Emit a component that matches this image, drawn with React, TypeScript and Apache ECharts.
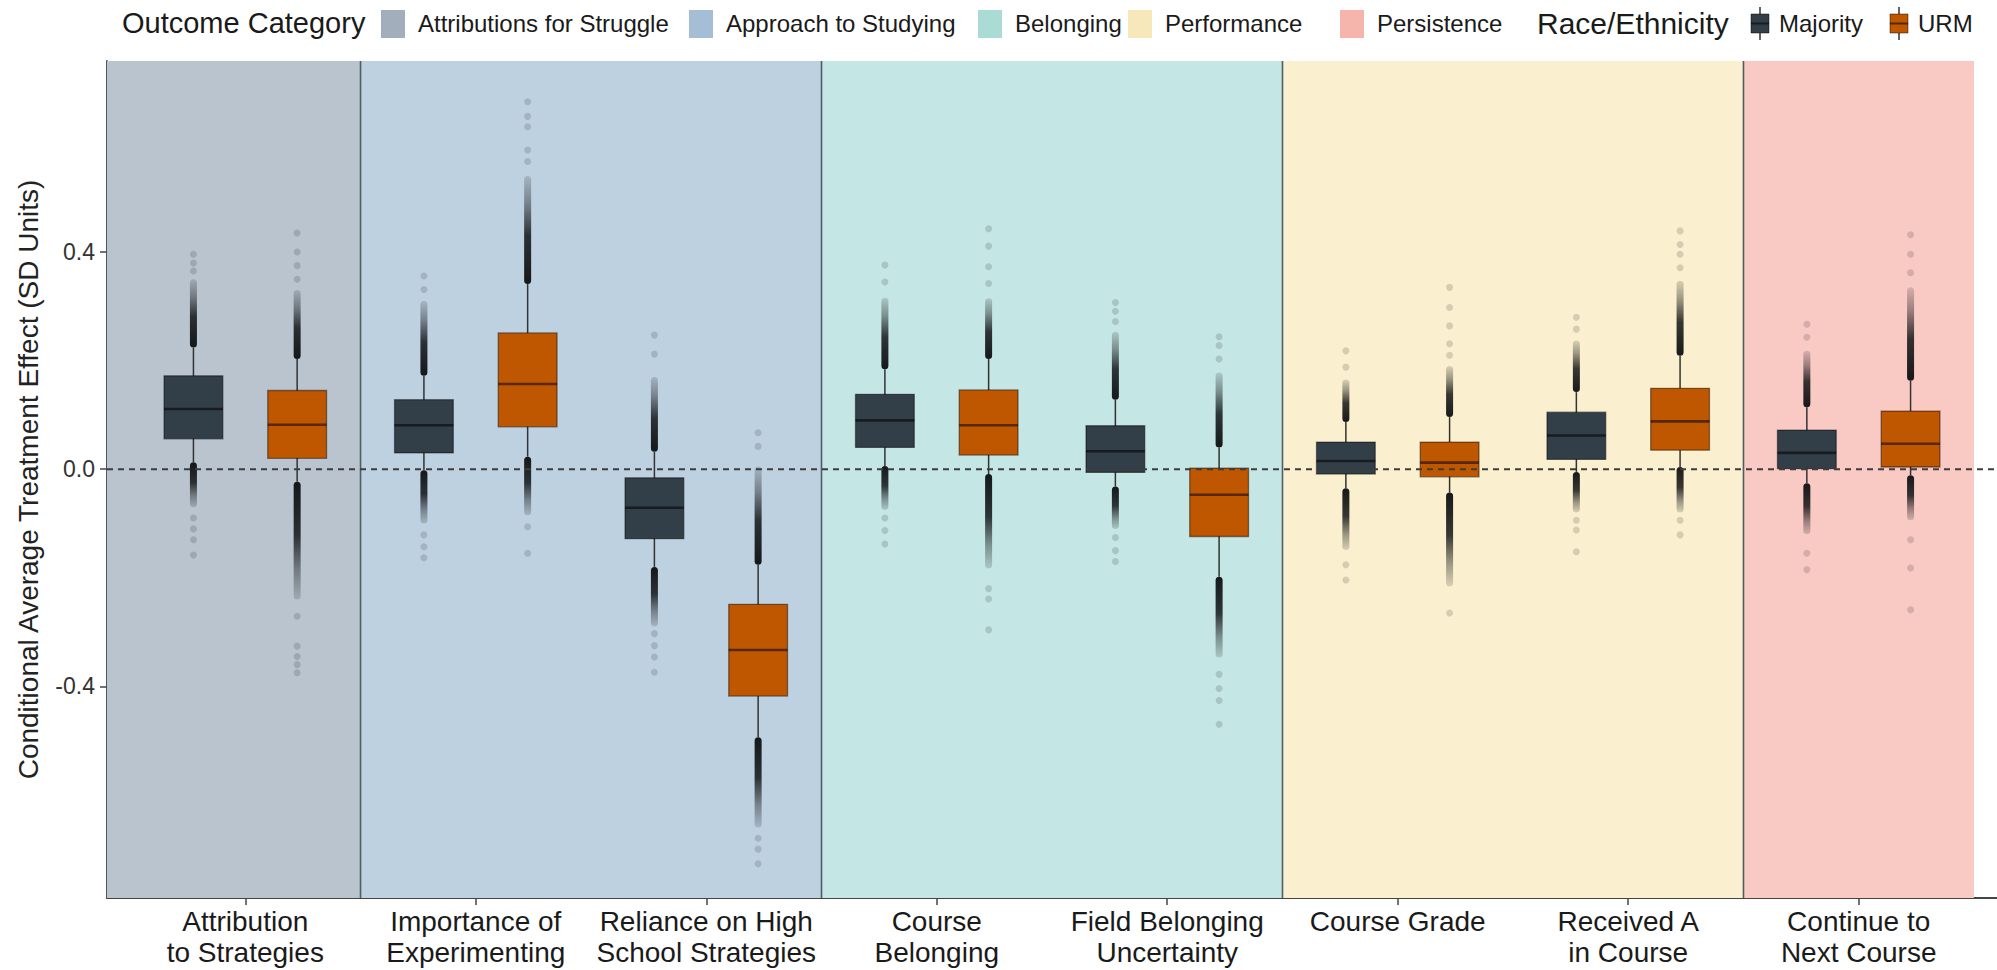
import React, { useEffect, useRef } from 'react';
import * as echarts from 'echarts';

// Outcomes on the x axis (ordered), grouped into outcome categories
const outcomeLabels = [
  'Attribution\nto Strategies',
  'Importance of\nExperimenting',
  'Reliance on High\nSchool Strategies',
  'Course\nBelonging',
  'Field Belonging\nUncertainty',
  'Course Grade',
  'Received A\nin Course',
  'Continue to\nNext Course',
];

const outcomeCategories = ['Attributions for Struggle', 'Approach to Studying', 'Belonging', 'Performance', 'Persistence'];
const categoryFirstOutcome = [1, 2, 4, 6, 8];
const categoryLastOutcome = [1, 3, 5, 7, 8];

const raceGroups = ['Majority', 'URM'];

// Box statistics per outcome: [lower whisker, Q1, median, Q3, upper whisker]
const majorityBoxes = [
  [0.013, 0.056, 0.111, 0.172, 0.224],
  [-0.002, 0.030, 0.081, 0.128, 0.172],
  [-0.180, -0.128, -0.071, -0.016, 0.032],
  [0.006, 0.040, 0.090, 0.138, 0.184],
  [-0.032, -0.006, 0.033, 0.080, 0.128],
  [-0.035, -0.009, 0.015, 0.050, 0.087],
  [-0.005, 0.018, 0.062, 0.105, 0.142],
  [-0.026, 0.001, 0.030, 0.072, 0.114],
];
const urmBoxes = [
  [-0.023, 0.020, 0.082, 0.145, 0.203],
  [0.023, 0.078, 0.157, 0.251, 0.341],
  [-0.494, -0.418, -0.333, -0.249, -0.176],
  [-0.009, 0.026, 0.081, 0.146, 0.203],
  [-0.198, -0.124, -0.047, 0.002, 0.040],
  [-0.043, -0.014, 0.012, 0.050, 0.096],
  [0.004, 0.035, 0.088, 0.149, 0.209],
  [-0.011, 0.004, 0.047, 0.107, 0.163],
];

// Far end of the dense run of outliers beyond each whisker: [above, below]
const majorityCloudEnds = [
  [0.35, -0.07],
  [0.31, -0.10],
  [0.17, -0.29],
  [0.316, -0.075],
  [0.253, -0.11],
  [0.165, -0.149],
  [0.237, -0.08],
  [0.218, -0.12],
];
const urmCloudEnds = [
  [0.33, -0.24],
  [0.54, -0.085],
  [0.005, -0.66],
  [0.315, -0.183],
  [0.178, -0.347],
  [0.19, -0.216],
  [0.347, -0.08],
  [0.335, -0.094],
];

// Isolated outlying estimates past the dense runs
const majorityOutliers = [
  [0.365, 0.38, 0.396, -0.09, -0.11, -0.13, -0.158],
  [0.331, 0.356, -0.121, -0.143, -0.163],
  [0.212, 0.247, -0.303, -0.325, -0.346, -0.374],
  [0.345, 0.376, -0.09, -0.113, -0.138],
  [0.272, 0.291, 0.307, -0.126, -0.15, -0.17],
  [0.188, 0.218, -0.176, -0.204],
  [0.258, 0.28, -0.094, -0.112, -0.152],
  [0.243, 0.267, -0.155, -0.185],
];
const urmOutliers = [
  [0.35, 0.375, 0.4, 0.435, -0.271, -0.326, -0.345, -0.36, -0.375],
  [0.567, 0.588, 0.631, 0.65, 0.677, -0.106, -0.155],
  [0.042, 0.067, -0.68, -0.7, -0.727],
  [0.342, 0.373, 0.411, 0.443, -0.22, -0.239, -0.296],
  [0.203, 0.228, 0.244, -0.378, -0.404, -0.426, -0.47],
  [0.21, 0.231, 0.264, 0.298, 0.335, -0.265],
  [0.371, 0.396, 0.414, 0.439, -0.094, -0.121],
  [0.362, 0.396, 0.432, -0.13, -0.182, -0.259],
];

const yTicks = [-0.4, 0, 0.4];
const referenceValue = 0;

// Axis ranges and layout
const X_MIN = 0.4;
const X_MAX = 8.6;
const Y_MIN = -0.79;
const Y_MAX = 0.752;
const DODGE = 0.225;
const BOX_WIDTH = 0.255;
const CLOUD_WIDTH = 7;

const FONT = '"Liberation Sans", Arial, sans-serif';
const categoryFills = ['#B9C4CE', '#BED1E1', '#C4E6E4', '#FAF0CF', '#F9C9C4'];
const categoryKeyFills = ['#A2AEBC', '#A6BED5', '#AADBD5', '#F6E8BA', '#F5B4AC'];
const raceFills = ['#333F48', '#BF5700'];

const boxSets = [majorityBoxes, urmBoxes];
const cloudSets = [majorityCloudEnds, urmCloudEnds];
const outlierSets = [majorityOutliers, urmOutliers];
const groupOffsets = [-DODGE, DODGE];

function buildOption() {
  const bgData = outcomeCategories.map((_, i) => [
    categoryFirstOutcome[i] === 1 ? X_MIN : categoryFirstOutcome[i] - 0.5,
    categoryLastOutcome[i] + 0.5,
    i,
  ]);
  const dividerData = categoryLastOutcome.slice(0, -1).map((v) => [v + 0.5, 0]);

  const boxData: number[][] = [];
  const cloudData: number[][] = [];
  const outlierData: number[][] = [];
  boxSets.forEach((set, g) => {
    set.forEach((s, i) => {
      const x = i + 1 + groupOffsets[g];
      boxData.push([x, s[0], s[1], s[2], s[3], s[4], g]);
      const ends = cloudSets[g][i];
      cloudData.push([x, s[4], ends[0], 1]);
      cloudData.push([x, s[0], ends[1], -1]);
      outlierSets[g][i].forEach((v) => outlierData.push([x, v]));
    });
  });

  const cloudColor = (a: number) => `rgba(12,14,16,${a})`;

  const graphic: any[] = [];
  const legendText = (text: string, x: number, size: number) => ({
    type: 'text',
    x,
    y: 23,
    silent: true,
    style: { text, fontSize: size, fontFamily: FONT, fill: '#1a1a1a', verticalAlign: 'middle', textVerticalAlign: 'middle' },
  });
  graphic.push(legendText('Outcome Category', 122, 29));
  const keyX = [381, 689, 978, 1128, 1340];
  outcomeCategories.forEach((name, i) => {
    graphic.push({
      type: 'rect',
      silent: true,
      shape: { x: keyX[i], y: 10, width: 24, height: 28 },
      style: { fill: categoryKeyFills[i] },
    });
    graphic.push(legendText(name, keyX[i] + 37, 24));
  });
  graphic.push(legendText('Race/Ethnicity', 1537, 30));
  const raceKeyX = [1760, 1899];
  raceGroups.forEach((name, g) => {
    const cx = raceKeyX[g];
    graphic.push({
      type: 'line', silent: true,
      shape: { x1: cx, y1: 7, x2: cx, y2: 40 },
      style: { stroke: '#333', lineWidth: 1.5 },
    });
    graphic.push({
      type: 'rect', silent: true,
      shape: { x: cx - 9, y: 14, width: 18, height: 19 },
      style: { fill: raceFills[g], stroke: 'rgba(0,0,0,0.45)', lineWidth: 1 },
    });
    graphic.push({
      type: 'line', silent: true,
      shape: { x1: cx - 9, y1: 23.5, x2: cx + 9, y2: 23.5 },
      style: { stroke: 'rgba(0,0,0,0.55)', lineWidth: 2 },
    });
    graphic.push(legendText(name, cx + 19, 24));
  });

  return {
    animation: false,
    backgroundColor: '#ffffff',
    textStyle: { fontFamily: FONT },
    graphic,
    grid: { left: 107, right: 0, top: 61, bottom: 72, containLabel: false },
    xAxis: {
      type: 'value',
      min: X_MIN,
      max: X_MAX,
      splitLine: { show: false },
      axisLine: { show: true, onZero: false, lineStyle: { color: '#444', width: 1.8 } },
      axisTick: { show: true, customValues: outcomeLabels.map((_, i) => i + 1), length: 7, lineStyle: { color: '#444', width: 1.5 } },
      axisLabel: {
        customValues: outcomeLabels.map((_, i) => i + 1),
        formatter: (v: number) => outcomeLabels[Math.round(v) - 1] ?? '',
        fontSize: 28,
        lineHeight: 31,
        color: '#1a1a1a',
        margin: 8,
        fontFamily: FONT,
      },
    },
    yAxis: {
      type: 'value',
      min: Y_MIN,
      max: Y_MAX,
      splitLine: { show: false },
      axisLine: { show: true, onZero: false, lineStyle: { color: '#444', width: 1.8 } },
      axisTick: { show: true, customValues: yTicks, length: 7, lineStyle: { color: '#444', width: 1.5 } },
      axisLabel: {
        customValues: yTicks,
        formatter: (v: number) => v.toFixed(1),
        fontSize: 23,
        color: '#333',
        margin: 12,
        fontFamily: FONT,
      },
      name: 'Conditional Average Treatment Effect (SD Units)',
      nameLocation: 'middle',
      nameGap: 65,
      nameTextStyle: { fontSize: 28, color: '#222', fontFamily: FONT },
    },
    series: [
      {
        // outcome-category bands
        type: 'custom',
        z: 1,
        silent: true,
        data: bgData,
        renderItem: (params: any, api: any) => {
          const cs = params.coordSys;
          const a = api.coord([api.value(0), 0]);
          const b = api.coord([api.value(1), 0]);
          return {
            type: 'rect',
            shape: { x: a[0], y: cs.y, width: b[0] - a[0], height: cs.height },
            style: { fill: categoryFills[api.value(2)] },
          };
        },
      },
      {
        // category dividers
        type: 'custom',
        z: 2,
        silent: true,
        data: dividerData,
        renderItem: (params: any, api: any) => {
          const cs = params.coordSys;
          const p = api.coord([api.value(0), 0]);
          return {
            type: 'line',
            shape: { x1: p[0], y1: cs.y, x2: p[0], y2: cs.y + cs.height },
            style: { stroke: '#525c64', lineWidth: 1.6 },
          };
        },
      },
      {
        // dense runs of outlying estimates
        type: 'custom',
        z: 3,
        silent: true,
        data: cloudData,
        renderItem: (params: any, api: any) => {
          const x = api.value(0);
          const p1 = api.coord([x, api.value(1)]);
          const p2 = api.coord([x, api.value(2)]);
          const up = api.value(3) > 0;
          const top = Math.min(p1[1], p2[1]);
          const h = Math.abs(p2[1] - p1[1]);
          const stops = [
            { offset: 0, color: cloudColor(0.95) },
            { offset: 0.45, color: cloudColor(0.82) },
            { offset: 0.75, color: cloudColor(0.4) },
            { offset: 1, color: cloudColor(0.14) },
          ];
          return {
            type: 'rect',
            shape: { x: p1[0] - CLOUD_WIDTH / 2, y: top, width: CLOUD_WIDTH, height: h, r: CLOUD_WIDTH / 2 },
            style: {
              fill: up
                ? new echarts.graphic.LinearGradient(0, 1, 0, 0, stops)
                : new echarts.graphic.LinearGradient(0, 0, 0, 1, stops),
            },
          };
        },
      },
      {
        type: 'scatter',
        z: 3,
        silent: true,
        data: outlierData,
        symbol: 'circle',
        symbolSize: 7,
        itemStyle: { color: 'rgba(20,24,28,0.2)' },
      },
      {
        // boxes and whiskers
        type: 'custom',
        z: 4,
        silent: true,
        data: boxData,
        renderItem: (params: any, api: any) => {
          const x = api.value(0);
          const lo = api.coord([x, api.value(1)]);
          const q1 = api.coord([x, api.value(2)]);
          const md = api.coord([x, api.value(3)]);
          const q3 = api.coord([x, api.value(4)]);
          const hi = api.coord([x, api.value(5)]);
          const w = api.size([BOX_WIDTH, 0])[0];
          const g = api.value(6);
          return {
            type: 'group',
            children: [
              { type: 'line', shape: { x1: lo[0], y1: lo[1], x2: hi[0], y2: hi[1] }, style: { stroke: '#333', lineWidth: 1.5 } },
              {
                type: 'rect',
                shape: { x: q3[0] - w / 2, y: q3[1], width: w, height: q1[1] - q3[1] },
                style: { fill: raceFills[g], stroke: 'rgba(0,0,0,0.45)', lineWidth: 1.3 },
              },
              {
                type: 'line',
                shape: { x1: md[0] - w / 2, y1: md[1], x2: md[0] + w / 2, y2: md[1] },
                style: { stroke: 'rgba(0,0,0,0.55)', lineWidth: 2.6 },
              },
            ],
          };
        },
      },
      {
        // reference line at zero effect
        type: 'custom',
        z: 5,
        silent: true,
        data: [[X_MIN, referenceValue]],
        renderItem: (params: any, api: any) => {
          const cs = params.coordSys;
          const p = api.coord([api.value(0), api.value(1)]);
          return {
            type: 'line',
            shape: { x1: cs.x, y1: p[1], x2: cs.x + cs.width, y2: p[1] },
            style: { stroke: '#3d3d3d', lineWidth: 2, lineDash: [6, 5] },
          };
        },
      },
    ],
  };
}

export default function App() {
  const ref = useRef<HTMLDivElement>(null);
  useEffect(() => {
    if (!ref.current) return;
    const chart = echarts.init(ref.current, null, { renderer: 'svg' });
    chart.setOption(buildOption() as any);
    return () => chart.dispose();
  }, []);
  return (
    <div
      ref={ref}
      style={{ position: 'fixed', left: 0, top: 0, width: 1997, height: 970, background: '#ffffff' }}
    />
  );
}
